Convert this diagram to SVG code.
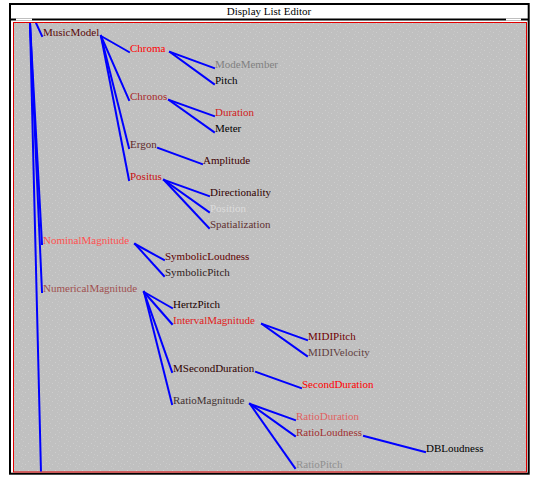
<svg xmlns="http://www.w3.org/2000/svg" width="537" height="483" viewBox="0 0 537 483">
  <style>
    .lbl { font-family: "Liberation Serif", "Times New Roman", serif; font-size: 11px; }
    .title { font-family: "Liberation Serif", "Times New Roman", serif; font-size: 11px; fill: #000; }
    .edge { stroke: #0000ff; stroke-width: 2; fill: none; stroke-linecap: square; }
  </style>
  <defs>
    <!-- speckled grey canvas texture -->
    <pattern id="speckle" width="9" height="9" patternUnits="userSpaceOnUse">
      <rect width="9" height="9" fill="#c0c0c0"/>
      <rect x="1" y="2" width="1" height="1" fill="#cecece"/>
      <rect x="5" y="0" width="1" height="1" fill="#cacaca"/>
      <rect x="7" y="5" width="1" height="1" fill="#cecece"/>
      <rect x="3" y="7" width="1" height="1" fill="#cacaca"/>
      <rect x="4" y="4" width="1" height="1" fill="#c9c9c9"/>
    </pattern>
    <clipPath id="canvasClip">
      <rect x="14" y="23" width="512" height="448.5"/>
    </clipPath>
  </defs>

  <!-- window frame -->
  <g id="window">
    <rect x="0" y="0" width="537" height="483" fill="#ffffff"/>
    <rect x="10" y="4" width="518.7" height="469.7" fill="#ffffff" stroke="#000000" stroke-width="2"/>
    <text class="title" x="269" y="15" text-anchor="middle">Display List Editor</text>
    <line x1="10" y1="19.5" x2="528" y2="19.5" stroke="#000000" stroke-width="2"/>
    <rect x="16" y="18.5" width="16" height="2" fill="#ffffff"/>
    <rect x="506" y="18.5" width="15" height="2" fill="#ffffff"/>
    <rect x="13.5" y="22.5" width="513" height="449.5" fill="url(#speckle)" stroke="#e00000" stroke-width="1"/>
  </g>

  <!-- tree connectors -->
  <g id="connectors" class="edge" clip-path="url(#canvasClip)">
    <!-- root (above the visible area) -->
    <line x1="36" y1="23" x2="42" y2="36"/>
    <line x1="30" y1="23" x2="42" y2="244"/>
    <line x1="30" y1="23" x2="42" y2="292"/>
    <line x1="30" y1="23" x2="41" y2="473"/>
    <!-- MusicModel -->
    <line x1="101" y1="36" x2="129" y2="52"/>
    <line x1="101" y1="36" x2="129" y2="100"/>
    <line x1="101" y1="36" x2="129" y2="148"/>
    <line x1="101" y1="36" x2="129" y2="180"/>
    <!-- Chroma -->
    <line x1="170" y1="52" x2="214" y2="68"/>
    <line x1="170" y1="52" x2="214" y2="84"/>
    <!-- Chronos -->
    <line x1="169" y1="100" x2="214" y2="116"/>
    <line x1="169" y1="100" x2="214" y2="132"/>
    <!-- Ergon -->
    <line x1="158" y1="148" x2="202" y2="164"/>
    <!-- Positus -->
    <line x1="164" y1="180" x2="209" y2="196"/>
    <line x1="164" y1="180" x2="209" y2="212"/>
    <line x1="164" y1="180" x2="209" y2="228"/>
    <!-- NominalMagnitude -->
    <line x1="135" y1="244" x2="164" y2="260"/>
    <line x1="135" y1="244" x2="164" y2="276"/>
    <!-- NumericalMagnitude -->
    <line x1="144" y1="292" x2="172" y2="308"/>
    <line x1="144" y1="292" x2="172" y2="324"/>
    <line x1="144" y1="292" x2="172" y2="372"/>
    <line x1="144" y1="292" x2="172" y2="404"/>
    <!-- IntervalMagnitude -->
    <line x1="262" y1="324" x2="307" y2="340"/>
    <line x1="262" y1="324" x2="307" y2="356"/>
    <!-- MSecondDuration -->
    <line x1="256" y1="372" x2="301" y2="388"/>
    <!-- RatioMagnitude -->
    <line x1="250" y1="404" x2="295" y2="420"/>
    <line x1="250" y1="404" x2="295" y2="436"/>
    <line x1="250" y1="404" x2="295" y2="468"/>
    <!-- RatioLoudness -->
    <line x1="364" y1="436" x2="425" y2="452"/>
  </g>

  <!-- tree nodes -->
  <g id="n-MusicModel"><text class="lbl" x="43" y="36" fill="#5a0808">MusicModel</text></g>
  <g id="n-Chroma"><text class="lbl" x="130" y="52" fill="#ff0000">Chroma</text></g>
  <g id="n-ModeMember"><text class="lbl" x="215" y="68" fill="#808080">ModeMember</text></g>
  <g id="n-Pitch"><text class="lbl" x="215" y="84" fill="#000000">Pitch</text></g>
  <g id="n-Chronos"><text class="lbl" x="130" y="100" fill="#a82828">Chronos</text></g>
  <g id="n-Duration"><text class="lbl" x="215" y="116" fill="#d02020">Duration</text></g>
  <g id="n-Meter"><text class="lbl" x="215" y="132" fill="#000000">Meter</text></g>
  <g id="n-Ergon"><text class="lbl" x="130" y="148" fill="#602828">Ergon</text></g>
  <g id="n-Amplitude"><text class="lbl" x="203" y="164" fill="#400000">Amplitude</text></g>
  <g id="n-Positus"><text class="lbl" x="130" y="180" fill="#c81010">Positus</text></g>
  <g id="n-Directionality"><text class="lbl" x="210" y="196" fill="#300000">Directionality</text></g>
  <g id="n-Position"><text class="lbl" x="210" y="212" fill="#dcdcdc">Position</text></g>
  <g id="n-Spatialization"><text class="lbl" x="210" y="228" fill="#603030">Spatialization</text></g>
  <g id="n-NominalMagnitude"><text class="lbl" x="43" y="244" fill="#ff5050">NominalMagnitude</text></g>
  <g id="n-SymbolicLoudness"><text class="lbl" x="165" y="260" fill="#600000">SymbolicLoudness</text></g>
  <g id="n-SymbolicPitch"><text class="lbl" x="165" y="276" fill="#302020">SymbolicPitch</text></g>
  <g id="n-NumericalMagnitude"><text class="lbl" x="43" y="292" fill="#a05050">NumericalMagnitude</text></g>
  <g id="n-HertzPitch"><text class="lbl" x="173" y="308" fill="#200000">HertzPitch</text></g>
  <g id="n-IntervalMagnitude"><text class="lbl" x="173" y="324" fill="#e02020">IntervalMagnitude</text></g>
  <g id="n-MIDIPitch"><text class="lbl" x="308" y="340" fill="#700000">MIDIPitch</text></g>
  <g id="n-MIDIVelocity"><text class="lbl" x="308" y="356" fill="#604040">MIDIVelocity</text></g>
  <g id="n-MSecondDuration"><text class="lbl" x="173" y="372" fill="#300000">MSecondDuration</text></g>
  <g id="n-SecondDuration"><text class="lbl" x="302" y="388" fill="#ff0000">SecondDuration</text></g>
  <g id="n-RatioMagnitude"><text class="lbl" x="173" y="404" fill="#403030">RatioMagnitude</text></g>
  <g id="n-RatioDuration"><text class="lbl" x="296" y="420" fill="#e06060">RatioDuration</text></g>
  <g id="n-RatioLoudness"><text class="lbl" x="296" y="436" fill="#a03030">RatioLoudness</text></g>
  <g id="n-DBLoudness"><text class="lbl" x="426" y="452" fill="#000000">DBLoudness</text></g>
  <g id="n-RatioPitch"><text class="lbl" x="296" y="468" fill="#909090">RatioPitch</text></g>
</svg>
